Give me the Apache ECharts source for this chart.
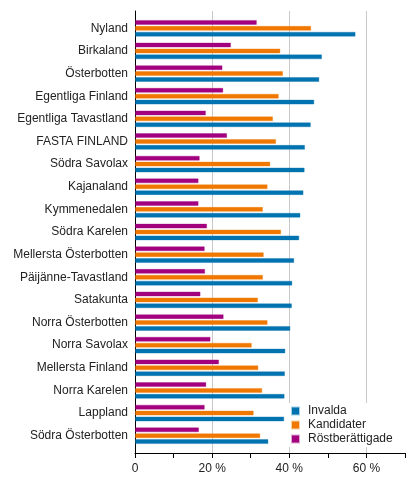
<!DOCTYPE html>
<html>
<head>
<meta charset="utf-8">
<script src="https://cdn.jsdelivr.net/npm/echarts@6/dist/echarts.min.js"></script>
<style>html,body{margin:0;padding:0;background:#fff}#c{width:416px;height:491px}</style>
</head>
<body>
<div id="c"></div>
<script>
const categories = ['Nyland','Birkaland','Österbotten','Egentliga Finland','Egentliga Tavastland','FASTA FINLAND','Södra Savolax','Kajanaland','Kymmenedalen','Södra Karelen','Mellersta Österbotten','Päijänne-Tavastland','Satakunta','Norra Österbotten','Norra Savolax','Mellersta Finland','Norra Karelen','Lappland','Södra Österbotten'];
const invalda = [57.2,48.5,47.8,46.5,45.6,44.1,44.0,43.7,42.9,42.6,41.3,40.8,40.7,40.3,39.0,38.9,38.8,38.7,34.6];
const kandidater = [45.7,37.7,38.4,37.3,35.8,36.6,35.1,34.4,33.2,37.9,33.4,33.2,31.9,34.4,30.3,32.0,33.0,30.8,32.5];
const rostberattigade = [31.6,24.9,22.7,22.9,18.4,23.9,16.8,16.5,16.5,18.7,18.1,18.2,17.0,23.0,19.6,21.8,18.5,18.1,16.6];
const seriesNames = ['Invalda','Kandidater','Röstberättigade'];
const xTickLabels = {0:'0',20:'20 %',40:'40 %',60:'60 %'};

const colors = ['#0073b0','#f07800','#a2007e'];
const borders = ['rgba(0,115,176,0.35)','rgba(240,120,0,0.35)','rgba(162,0,126,0.35)'];
const rev = a => a.slice().reverse();
const font = 'Liberation Sans, Arial, sans-serif';

const chart = echarts.init(document.getElementById('c'));
const data = [invalda, kandidater, rostberattigade];
// draw order: purple on top of each group, blue at bottom
const order = [2, 1, 0];
chart.setOption({
  animation: false,
  grid: [
    {left: 135, right: 11, top: 11, bottom: 38},
    {left: 135, right: 11, top: 17, bottom: 44}
  ],
  xAxis: [
    {
      gridIndex: 0, type: 'value', min: 0, max: 70, interval: 10,
      axisLine: {show: true, lineStyle: {color: '#000', width: 1}},
      axisTick: {show: true, length: 5, lineStyle: {color: '#000'}},
      axisLabel: {
        color: '#222', fontSize: 12, fontFamily: font, margin: 10,
        formatter: v => (xTickLabels[v] !== undefined ? xTickLabels[v] : '')
      },
      splitLine: {show: true, lineStyle: {width: 1, color: ['rgba(0,0,0,0)','rgba(0,0,0,0)','#c8c8c8','rgba(0,0,0,0)','#c8c8c8','rgba(0,0,0,0)','#c8c8c8','rgba(0,0,0,0)']}}
    },
    {gridIndex: 1, type: 'value', min: 0, max: 70, interval: 10, show: false, splitLine: {show: false}}
  ],
  yAxis: [
    {gridIndex: 0, type: 'value', min: 0, max: 1, axisLabel: {show: false}, axisTick: {show: false}, splitLine: {show: false},
     axisLine: {show: true, lineStyle: {color: '#000', width: 1}}},
    {gridIndex: 1, type: 'category', data: rev(categories),
     axisLine: {show: false}, axisTick: {show: false},
     axisLabel: {color: '#222', fontSize: 12, fontFamily: font, margin: 7}}
  ],
  legend: {
    orient: 'vertical', left: 287, top: 403,
    itemWidth: 7, itemHeight: 7, itemGap: 2,
    icon: 'rect', backgroundColor: '#fff', padding: [2, 6, 2, 4],
    textStyle: {fontSize: 12, fontFamily: font, color: '#222', padding: [0, 0, 0, 4]},
    data: seriesNames
  },
  series: order.map(i => ({
    name: seriesNames[i], type: 'bar', xAxisIndex: 1, yAxisIndex: 1,
    data: rev(data[i]), barWidth: 5, barGap: '18%',
    itemStyle: {color: colors[i], borderColor: borders[i], borderWidth: 1}
  }))
});
</script>
</body>
</html>
